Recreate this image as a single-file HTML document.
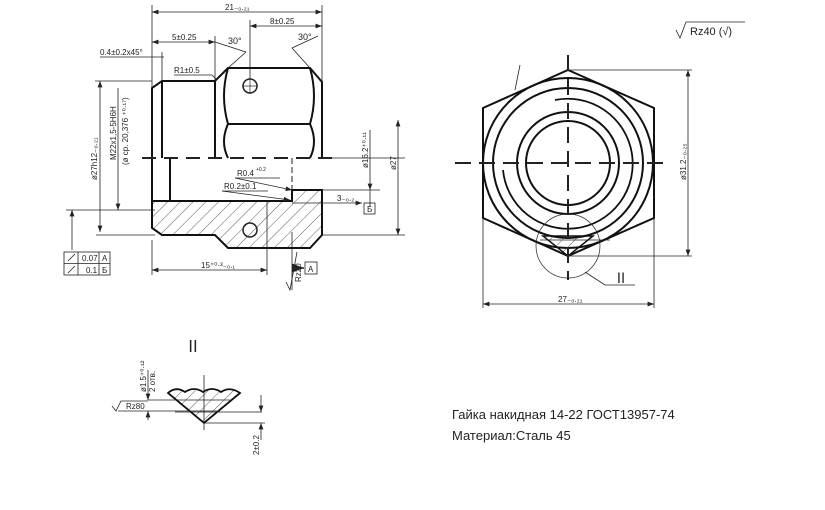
<!DOCTYPE html>
<html><head><meta charset="utf-8"><style>
html,body{margin:0;padding:0;background:#fff;}
svg{display:block}
text{font-family:"Liberation Sans","Noto Sans CJK SC",sans-serif;fill:#222}
</style></head><body>
<svg width="825" height="510" viewBox="0 0 825 510" xmlns="http://www.w3.org/2000/svg">
<defs>
<pattern id="h" patternUnits="userSpaceOnUse" width="9" height="9" patternTransform="rotate(45)">
<line x1="0" y1="0" x2="0" y2="9" stroke="#333" stroke-width="0.8"/></pattern>
<marker id="a" markerWidth="8" markerHeight="6" refX="8" refY="3" orient="auto-start-reverse"><path d="M0,0 L8,3 L0,6z" fill="#222"/></marker>
</defs>
<rect width="825" height="510" fill="#fff"/>
<g stroke="#222" fill="none">
<!-- hatched section -->
<path d="M152,201 L292,201 L292,190 L322,190 L322,235 L310,248 L228,248 L215,235 L162,235 L152,228 Z" fill="url(#h)" stroke="#111" stroke-width="2"/>
<!-- upper outline -->
<g stroke="#111" stroke-width="2">
<path d="M152,228 L152,88 L162,81 L215,81 L228,68 L310,68 L322,82 L322,158"/>
<line x1="162" y1="81" x2="162" y2="158"/>
<line x1="215" y1="81" x2="215" y2="158"/>
<line x1="170" y1="158" x2="170" y2="201"/>
<line x1="228" y1="124" x2="310" y2="124"/>
<path d="M228,68 Q220,96 228,124 Q220,142 228,158"/>
<path d="M310,68 Q318,96 310,124 Q318,142 310,158"/>
</g>
<line x1="292" y1="158" x2="292" y2="190" stroke-width="1" stroke-dasharray="6,3"/>
<circle cx="250" cy="86" r="7" stroke-width="1.5"/>
<circle cx="250" cy="230" r="7" stroke-width="1.5"/>
<line x1="242" y1="86" x2="258" y2="86" stroke-width="0.7"/><line x1="250" y1="78" x2="250" y2="94" stroke-width="0.7"/>
<line x1="142" y1="158" x2="335" y2="158" stroke-width="2" stroke-dasharray="14,8"/>
<!-- dims top -->
<g stroke-width="0.8">
<line x1="152" y1="5" x2="152" y2="88"/><line x1="322" y1="5" x2="322" y2="82"/>
<line x1="152" y1="12" x2="322" y2="12" marker-start="url(#a)" marker-end="url(#a)"/>
<line x1="250" y1="20" x2="250" y2="80"/>
<line x1="250" y1="26" x2="322" y2="26" marker-start="url(#a)" marker-end="url(#a)"/>
<line x1="215" y1="36" x2="215" y2="81"/>
<line x1="152" y1="42" x2="215" y2="42" marker-start="url(#a)" marker-end="url(#a)"/>
<line x1="215" y1="42" x2="246" y2="52"/><line x1="246" y1="52" x2="228" y2="68"/>
<line x1="292" y1="48" x2="310" y2="68"/><line x1="292" y1="48" x2="318" y2="36"/>
<line x1="100" y1="57" x2="164" y2="57"/><line x1="162" y1="52" x2="162" y2="81"/>
<line x1="174" y1="75" x2="212" y2="75"/><line x1="212" y1="75" x2="217" y2="80"/>
<!-- left dims -->
<line x1="95" y1="81" x2="152" y2="81"/>
<line x1="100" y1="81" x2="100" y2="232" marker-start="url(#a)" marker-end="url(#a)"/>
<line x1="118" y1="88" x2="118" y2="210" marker-end="url(#a)"/>
<line x1="66" y1="210" x2="155" y2="210"/><line x1="96" y1="235" x2="155" y2="235"/>
<line x1="72" y1="210" x2="72" y2="250" marker-start="url(#a)"/>
<!-- 15 -->
<line x1="152" y1="240" x2="152" y2="275"/><line x1="267" y1="201" x2="267" y2="275"/>
<line x1="152" y1="270" x2="267" y2="270" marker-start="url(#a)" marker-end="url(#a)"/>
<!-- R leaders -->
<line x1="235" y1="178" x2="292" y2="190" marker-end="url(#a)"/>
<line x1="222" y1="191" x2="290" y2="200" marker-end="url(#a)"/>
<line x1="280" y1="178" x2="235" y2="178"/><line x1="268" y1="191" x2="222" y2="191"/>
<!-- right dims -->
<line x1="322" y1="190" x2="380" y2="190"/><line x1="322" y1="235" x2="405" y2="235"/><line x1="322" y1="158" x2="405" y2="158"/>
<line x1="370" y1="130" x2="370" y2="190" marker-end="url(#a)"/>
<line x1="398" y1="120" x2="398" y2="235" marker-start="url(#a)" marker-end="url(#a)"/>
<line x1="292" y1="203" x2="362" y2="203" marker-end="url(#a)"/>
<line x1="370" y1="190" x2="370" y2="207"/>
<!-- Rz20 -->
<line x1="292" y1="232" x2="292" y2="290"/>
<path d="M286,282 L290,290 L297,252"/>
<path d="M292,268 L304,268" stroke-width="1.5" marker-end="url(#a)"/>
</g>
<rect x="305" y="262" width="12" height="12" stroke-width="0.8"/>
<rect x="364" y="203" width="11" height="11" stroke-width="0.8"/>
<!-- tolerance frame -->
<g stroke-width="0.8">
<rect x="64" y="252" width="46" height="23"/>
<line x1="64" y1="263.5" x2="110" y2="263.5"/><line x1="78" y1="252" x2="78" y2="275"/><line x1="99" y1="252" x2="99" y2="275"/>
<line x1="68" y1="261" x2="75" y2="254"/><line x1="68" y1="273" x2="75" y2="266"/>
</g>
<!-- right view -->
<g stroke="#111" stroke-width="2">
<path d="M568,70 L654,108 L654,218 L568,256 L483,218 L483,108 Z"/>
<circle cx="568" cy="163" r="85"/>
<circle cx="568" cy="163" r="75"/>
<circle cx="568" cy="163" r="51"/>
<circle cx="568" cy="163" r="42"/>
<path d="M555,100 A65,65 0 1 1 503,170" stroke-width="1.8"/>
</g>
<path d="M543,236 L593,236 L568,256 Z" fill="url(#h)" stroke="#111" stroke-width="1.5"/>
<line x1="540" y1="240" x2="610" y2="240" stroke-width="0.8"/>
<line x1="455" y1="163" x2="670" y2="163" stroke-width="2" stroke-dasharray="16,8"/>
<line x1="568" y1="55" x2="568" y2="280" stroke-width="2" stroke-dasharray="16,8"/>
<circle cx="568" cy="246" r="32" stroke-width="0.7"/>
<g stroke-width="0.8">
<path d="M585,272 L605,285 L635,285"/>
<line x1="520" y1="65" x2="515" y2="90"/>
<line x1="568" y1="70" x2="692" y2="70"/><line x1="568" y1="256" x2="692" y2="256"/>
<line x1="688" y1="70" x2="688" y2="256" marker-start="url(#a)" marker-end="url(#a)"/>
<line x1="483" y1="218" x2="483" y2="308"/><line x1="654" y1="218" x2="654" y2="308"/>
<line x1="483" y1="304" x2="654" y2="304" marker-start="url(#a)" marker-end="url(#a)"/>
<path d="M676,30 L680,38 L686,22 L745,22"/>
</g>
<!-- detail II -->
<path d="M168,393 Q176,386 185,392 Q194,386 203,392 Q212,386 221,392 Q230,386 240,393 L204,423 Z" fill="url(#h)" stroke="#111" stroke-width="1.8"/>
<g stroke-width="0.8">
<line x1="204" y1="375" x2="204" y2="430"/>
<line x1="148" y1="400" x2="230" y2="400"/><line x1="118" y1="411" x2="220" y2="411"/>
<line x1="175" y1="412" x2="262" y2="412"/><line x1="204" y1="423" x2="265" y2="423"/>
<line x1="148" y1="370" x2="148" y2="400" marker-end="url(#a)"/>
<line x1="148" y1="420" x2="148" y2="411" marker-end="url(#a)"/>
<line x1="261" y1="395" x2="261" y2="412" marker-end="url(#a)"/>
<line x1="261" y1="440" x2="261" y2="423" marker-end="url(#a)"/>
<path d="M112,406 L116,411 L121,401 L148,401"/>
</g>
</g>
<g font-size="8">
<text x="225" y="10">21₋₀.₂₁</text>
<text x="270" y="24">8±0.25</text>
<text x="172" y="40">5±0.25</text>
<text x="228" y="44" font-size="9">30°</text>
<text x="298" y="40" font-size="9">30°</text>
<text x="100" y="55">0.4±0.2x45°</text>
<text x="174" y="73">R1±0.5</text>
<text x="237" y="176">R0.4</text><text x="256" y="171" font-size="5">+0.2</text>
<text x="224" y="189">R0.2±0.1</text>
<text x="337" y="201">3₋₀.₂</text>
<text x="201" y="268">15⁺⁰·³₋₀.₁</text>
<text x="82" y="261">0.07</text><text x="102" y="261">A</text>
<text x="86" y="273">0.1</text><text x="102" y="273">Б</text>
<text x="308" y="272">A</text>
<text x="367" y="212">Б</text>
<text transform="translate(97,180) rotate(-90)">ø27h12₋₀.₂₁</text>
<text transform="translate(116,160) rotate(-90)">M22x1,5-5H6H</text>
<text transform="translate(128,165) rotate(-90)">(ø ср. 20,376 ⁺⁰·¹⁷)</text>
<text transform="translate(368,168) rotate(-90)">ø16.2⁺⁰·¹¹</text>
<text transform="translate(396,170) rotate(-90)">ø27</text>
<text transform="translate(301,282) rotate(-90)">Rz20</text>
<text transform="translate(686,180) rotate(-90)">ø31.2₋₀.₂₅</text>
<text x="558" y="302">27₋₀.₂₁</text>
<text x="690" y="35" font-size="11">Rz40 (√)</text>
<text x="126" y="409">Rz80</text>
<text transform="translate(146,392) rotate(-90)">ø1.5⁺⁰·¹²</text>
<text transform="translate(155,392) rotate(-90)">2 отв.</text>
<text transform="translate(259,455) rotate(-90)">2±0.2</text>
</g>
<text x="614" y="283" font-family="Liberation Serif" font-size="14">Ⅱ</text>
<text x="185" y="352" font-family="Liberation Serif" font-size="16">Ⅱ</text>
<text x="452" y="419" font-size="13">Гайка накидная  14-22 ГОСТ13957-74</text>
<text x="452" y="440" font-size="13">Материал:Сталь 45</text>
</svg>
</body></html>
